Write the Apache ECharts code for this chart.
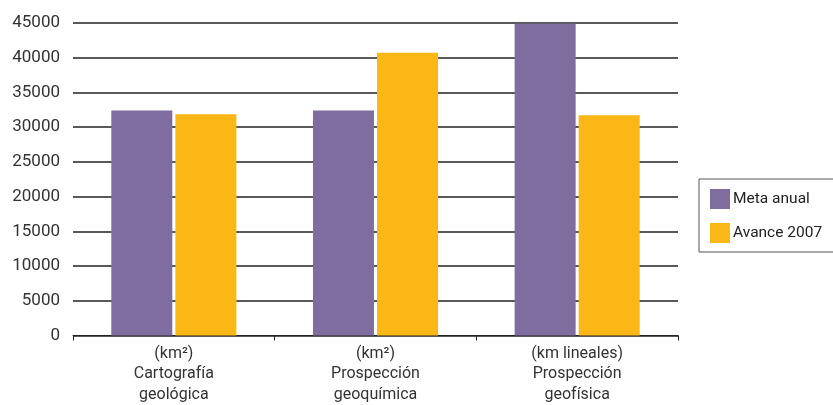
<!DOCTYPE html>
<html><head><meta charset="utf-8">
<script src="https://cdn.jsdelivr.net/npm/echarts@6/dist/echarts.min.js"></script>
<style>html,body{margin:0;padding:0;background:#fff}#c{width:833px;height:405px}</style>
</head><body><div id="c"></div>
<script>
const categories = ['(km²)\nCartografía\ngeológica', '(km²)\nProspección\ngeoquímica', '(km lineales)\nProspección\ngeofísica'];
const metaAnual = [32400, 32400, 44900];
const avance2007 = [31850, 40700, 31700];
const seriesNames = ['Meta anual', 'Avance 2007'];
const FONT = 'Roboto';
const chart = echarts.init(document.getElementById('c'));
chart.setOption({
  animation: false,
  textStyle: {fontFamily: FONT},
  grid: {left: 73, right: 155, top: 23, bottom: 67},
  legend: {
    orient: 'vertical', left: 699, top: 179,
    padding: [10, 40, 9, 11], itemGap: 14, itemWidth: 20, itemHeight: 20,
    borderColor: '#555', borderWidth: 1, borderRadius: 0,
    icon: 'rect',
    textStyle: {fontSize: 15.5, color: '#222', fontFamily: FONT, padding: [0, 0, 0, -2]},
    data: seriesNames
  },
  xAxis: {
    type: 'category', data: categories,
    axisLine: {show: true, lineStyle: {color: '#222', width: 1}},
    axisTick: {show: true, length: 5, lineStyle: {color: '#222'}},
    axisLabel: {fontSize: 16, color: '#333', lineHeight: 20.5, margin: 8, fontFamily: FONT}
  },
  yAxis: {
    type: 'value', min: 0, max: 45000, interval: 5000,
    axisLine: {show: false}, axisTick: {show: false},
    axisLabel: {fontSize: 17, color: '#333', margin: 13, fontFamily: FONT, formatter: v => String(v)},
    splitLine: {lineStyle: {color: '#222', width: 1.5}}
  },
  series: [
    {name: seriesNames[0], type: 'bar', data: metaAnual, barWidth: 61, barGap: '5%', itemStyle: {color: '#7f6da0'}},
    {name: seriesNames[1], type: 'bar', data: avance2007, barWidth: 61, itemStyle: {color: '#fbb716'}}
  ]
});
</script></body></html>
